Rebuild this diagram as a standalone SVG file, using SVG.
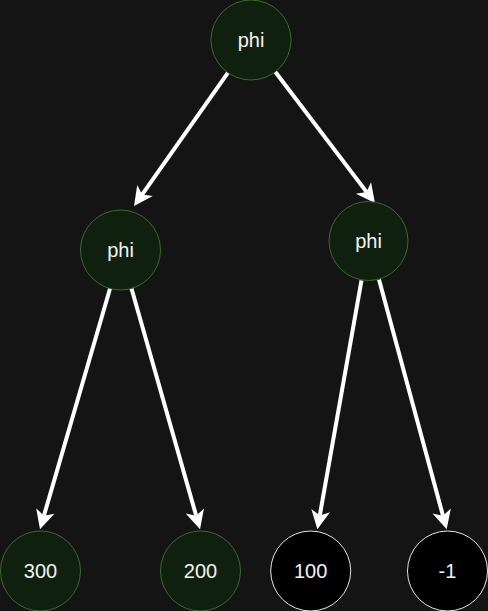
<svg xmlns="http://www.w3.org/2000/svg" width="488" height="611" viewBox="0 0 488 611">
<style>
.g{fill:#0f200e;stroke:#3b6b27;stroke-width:1}
.b{fill:#000000;stroke:#e6e6e6;stroke-width:1}
.t{font-family:"Liberation Sans",Arial,sans-serif;font-size:20px;fill:#f4f4f4;text-anchor:middle}
.e{stroke:#ffffff;stroke-width:4;fill:none;marker-end:url(#arr)}
</style>
<defs>
<marker id="arr" markerUnits="userSpaceOnUse" markerWidth="26" markerHeight="24" viewBox="-6 -11 26 22" refX="0" refY="0" orient="auto">
<path d="M-5,-9.5 L14,0 L-5,9.5 L0,0 Z" fill="#ffffff"/>
</marker>
</defs>
<rect width="488" height="611" fill="#141414"/>
<g id="connectors">
<line class="e" x1="228" y1="72.7" x2="142.1" y2="194.6"/>
<line class="e" x1="275.2" y1="71.8" x2="366.5" y2="191.9"/>
<line class="e" x1="110.5" y1="287" x2="43.9" y2="515.8"/>
<line class="e" x1="131.5" y1="288.5" x2="196.2" y2="515.8"/>
<line class="e" x1="361.5" y1="280.4" x2="319.8" y2="515.5"/>
<line class="e" x1="379" y1="279.6" x2="443" y2="515.8"/>
</g>
<g id="n-root"><circle class="g" cx="251" cy="40" r="40"/><text class="t" x="251" y="47">phi</text></g>
<g id="n-left"><circle class="g" cx="120.5" cy="250" r="40"/><text class="t" x="120.5" y="257">phi</text></g>
<g id="n-right"><circle class="g" cx="368.5" cy="241" r="39.5"/><text class="t" x="368.5" y="248">phi</text></g>
<g id="n-300"><circle class="g" cx="40.5" cy="571" r="40"/><text class="t" x="40.5" y="578">300</text></g>
<g id="n-200"><circle class="g" cx="200.5" cy="571" r="40"/><text class="t" x="200.5" y="578">200</text></g>
<g id="n-100"><circle class="b" cx="310.7" cy="571" r="40"/><text class="t" x="310.7" y="578">100</text></g>
<g id="n-m1"><circle class="b" cx="447.5" cy="571" r="40"/><text class="t" x="447.5" y="578">-1</text></g>
</svg>
